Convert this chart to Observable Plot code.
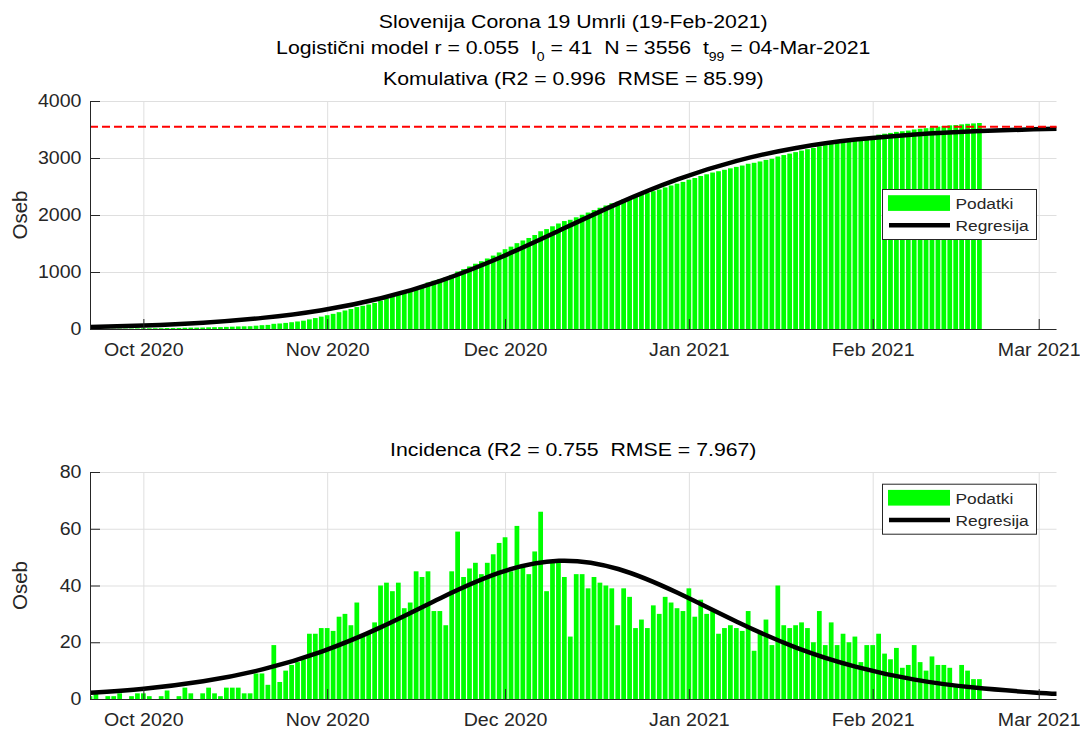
<!DOCTYPE html>
<html>
<head>
<meta charset="utf-8">
<script src="https://cdn.jsdelivr.net/npm/d3@7"></script>
<script src="https://cdn.jsdelivr.net/npm/@observablehq/plot@0.6"></script>
<style>
  body { margin: 0; background: #fff; }
  #wrap { position: relative; width: 1080px; height: 729px; overflow: hidden; background: #fff; }
  #wrap > svg { position: absolute; left: 0; }
</style>
</head>
<body>
<div id="wrap"></div>
<script>
// ---------------- data ----------------
const firstDay = "2020-09-22";
// daily deaths (incidence), 22-Sep-2020 .. 19-Feb-2021
const incidence = [
  1,2,0,1,1,2,0,1,2,
  2,1,0,1,3,0,1,4,2,0,2,4,2,1,4,4,4,2,2,9,9,5,19,6,10,12,13,14,23,23,25,
  25,24,29,30,26,34,22,23,27,40,41,38,41,32,34,45,43,45,31,31,26,45,59,43,46,48,44,48,51,55,
  57,45,61,47,44,52,66,38,49,49,43,22,44,44,39,43,41,40,39,26,39,36,25,28,25,33,30,36,34,32,31,
  39,29,35,30,31,23,25,26,25,24,31,17,23,28,19,40,26,25,26,27,25,20,31,19,27,19,23,20,22,13,19,
  19,23,16,14,18,11,12,19,13,10,15,12,12,11,5,12,10,7,7
];
// regression (logistic model)
const modelDates = ["2020-09-22","2020-10-01","2020-10-11","2020-10-21","2020-10-31","2020-11-10",
  "2020-11-20","2020-11-30","2020-12-10","2020-12-20","2020-12-30","2021-01-09","2021-01-19",
  "2021-01-29","2021-02-08","2021-02-18","2021-02-28","2021-03-04"];
const modelCumulative = [43,71,120,204,339,549,854,1259,1733,2213,2633,2958,3185,3332,3423,3478,3511,3520];
const modelIncidence = [2.4,3.8,6.4,10.6,16.9,25.5,35.7,44.7,48.9,46.0,37.6,27.4,18.3,11.6,7.0,4.2,2.5,2.0];
const saturationN = 3556;
const monthTickDates = ["2020-10-01","2020-11-01","2020-12-01","2021-01-01","2021-02-01","2021-03-01"];
const xDomainDates = ["2020-09-22","2021-03-04"];
const cumTicks = [0,1000,2000,3000,4000];
const incTicks = [0,20,40,60,80];
const mainTitle = "Slovenija Corona 19 Umrli (19-Feb-2021)";
const subtitleParts = [["Logistični model r = 0.055  I",""],["0","sub"],[" = 41  N = 3556  t",""],["99","sub"],[" = 04-Mar-2021",""]];
const topTitle = "Komulativa (R2 = 0.996  RMSE = 85.99)";
const bottomTitle = "Incidenca (R2 = 0.755  RMSE = 7.967)";
const yLabel = "Oseb";
const legendLabels = ["Podatki", "Regresija"];

// ---------------- prep ----------------
const start = new Date(firstDay);
const cumulative = d3.cumsum(incidence);
const rows = incidence.map((v, i) => ({date: d3.utcDay.offset(start, i), inc: v, cum: cumulative[i]}));
const model = modelDates.map((d, i) => ({date: new Date(d), cum: modelCumulative[i], inc: modelIncidence[i]}));
const monthTicks = monthTickDates.map(d => new Date(d));
const xDomain = xDomainDates.map(d => new Date(d));
const DAY = 864e5;
const halfBar = 0.4 * DAY;

const FONT = "'Liberation Sans', Arial, Helvetica, sans-serif";
const K = 1.12; // horizontal stretch of glyphs
const GREEN = "#00ff00", GRID = "#dfdfdf", AX = "#262626";
const W = 1080, ML = 90, MR = 23.5;
const plotW = W - ML - MR;

function stretchTexts(svg) {
  svg.querySelectorAll("text").forEach(t => {
    const tr = t.getAttribute("transform") || "";
    const x = t.getAttribute("x");
    if (x && +x) t.setAttribute("transform", `${tr} translate(${x},0) scale(${K},1) translate(${-x},0)`);
    else t.setAttribute("transform", `${tr} scale(${K},1)`);
  });
}

function makePlot({height, marginTop, marginBottom, yDomain, yTicks, key}) {
  const ph = height - marginTop - marginBottom;
  const svg = Plot.plot({
    width: W, height, marginLeft: ML, marginRight: MR, marginTop, marginBottom,
    x: {type: "utc", domain: xDomain},
    y: {domain: yDomain},
    style: {fontFamily: FONT, fontSize: "17.5px", color: AX, background: "transparent", overflow: "visible"},
    marks: [
      Plot.ruleX(monthTicks, {stroke: GRID, strokeWidth: 1}),
      Plot.ruleY(yTicks, {stroke: GRID, strokeWidth: 1}),
      Plot.rect(rows, {
        x1: d => new Date(+d.date - halfBar), x2: d => new Date(+d.date + halfBar),
        y1: 0, y2: key, fill: GREEN, clip: true
      }),
      Plot.line(model, {x: "date", y: key, stroke: "#000", strokeWidth: 4.5, curve: "natural", clip: true}),
      key === "cum" ? Plot.ruleY([saturationN], {stroke: "#ff0000", strokeWidth: 2, strokeDasharray: "8,4"}) : null,
      Plot.ruleY([0], {stroke: AX, strokeWidth: 1}),
      Plot.ruleX([xDomain[0]], {stroke: AX, strokeWidth: 1}),
      Plot.tickX(monthTicks, {x: d => d, insetTop: ph - 10, stroke: AX}),
      Plot.tickY(yTicks, {y: d => d, insetRight: plotW - 10, stroke: AX}),
      Plot.axisX({ticks: monthTicks, tickSize: 0, tickPadding: 14, tickFormat: d3.utcFormat("%b %Y"), label: null}),
      Plot.axisY({ticks: yTicks, tickSize: 0, tickPadding: 9, tickFormat: d => String(d), label: null})
    ]
  });
  stretchTexts(svg);
  return svg;
}

const wrap = document.getElementById("wrap");
const topSvg = makePlot({height: 365, marginTop: 101, marginBottom: 36, yDomain: [0, 4000], yTicks: cumTicks, key: "cum"});
topSvg.style.top = "0px";
wrap.appendChild(topSvg);
const botSvg = makePlot({height: 364, marginTop: 107, marginBottom: 30, yDomain: [0, 80], yTicks: incTicks, key: "inc"});
botSvg.style.top = "365px";
wrap.appendChild(botSvg);

// ---------------- titles, labels, legends ----------------
const ov = d3.create("svg").attr("width", W).attr("height", 729)
  .style("position", "absolute").style("top", "0px").style("left", "0px")
  .style("font-family", FONT).style("pointer-events", "none");
const cx = ML + plotW / 2;
function title(txt, y, size) {
  ov.append("text").attr("transform", `translate(${cx},${y}) scale(${K},1)`)
    .attr("text-anchor", "middle").attr("font-size", size).attr("fill", "#000")
    .style("white-space", "pre").text(txt);
}
title(mainTitle, 28, 19);
const sub = ov.append("text").attr("transform", `translate(${cx},53.5) scale(${K},1)`)
  .attr("text-anchor", "middle").attr("font-size", 19).attr("fill", "#000").style("white-space", "pre");
let lowered = false;
subtitleParts.forEach(([t, kind]) => {
  const ts = sub.append("tspan").text(t);
  if (kind === "sub") { ts.attr("font-size", 12.5).attr("dy", 7); lowered = true; }
  else if (lowered) { ts.attr("dy", -7); lowered = false; }
});
title(topTitle, 84.5, 19);
title(bottomTitle, 455.5, 19);

[[215], [585.5]].forEach(([yc]) => {
  ov.append("text").attr("transform", `translate(27,${yc}) rotate(-90)`)
    .attr("text-anchor", "middle").attr("font-size", 20.5).attr("fill", AX).text(yLabel);
});

function legend(y0) {
  const g = ov.append("g");
  g.append("rect").attr("x", 882.5).attr("y", y0).attr("width", 154).attr("height", 50)
    .attr("fill", "#fff").attr("stroke", AX).attr("stroke-width", 1);
  g.append("rect").attr("x", 888).attr("y", y0 + 5.7).attr("width", 62).attr("height", 15.7).attr("fill", GREEN);
  g.append("line").attr("x1", 889).attr("x2", 950).attr("y1", y0 + 35.7).attr("y2", y0 + 35.7)
    .attr("stroke", "#000").attr("stroke-width", 4.5);
  legendLabels.forEach((lab, i) => {
    g.append("text").attr("transform", `translate(955.5,${y0 + 19.3 + i * 22}) scale(${K},1)`)
      .attr("font-size", 15.5).attr("fill", AX).text(lab);
  });
}
legend(189.5);
legend(484.2);
wrap.appendChild(ov.node());
</script>
</body>
</html>
